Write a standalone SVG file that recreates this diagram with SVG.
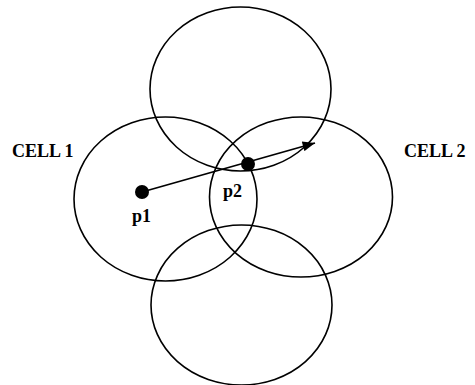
<svg xmlns="http://www.w3.org/2000/svg" width="475" height="385" viewBox="0 0 475 385">
<style>
.cell{fill:none;stroke:#000;stroke-width:1.6}
.lbl{font-family:"Liberation Serif","Times New Roman",serif;font-weight:bold;font-size:18px;fill:#000}
.dot{fill:#000}
.conn{stroke:#000;stroke-width:1.8;fill:none}
</style>
<defs>
<marker id="ah" viewBox="0 0 10 8" refX="10" refY="4" markerWidth="7.5" markerHeight="5.5" orient="auto" markerUnits="strokeWidth">
<path d="M0,0 L10,4 L0,8 Z" fill="#000"/>
</marker>
</defs>
<rect width="475" height="385" fill="#fff"/>
<g id="cell-top"><ellipse class="cell" cx="240.5" cy="89" rx="90.5" ry="82"/></g>
<g id="cell-1"><ellipse class="cell" cx="165.5" cy="199" rx="91.5" ry="82"/><text class="lbl" x="12" y="157">CELL 1</text></g>
<g id="cell-2"><ellipse class="cell" cx="301" cy="197" rx="91.5" ry="80"/><text class="lbl" x="404" y="157">CELL 2</text></g>
<g id="cell-bottom"><ellipse class="cell" cx="241.5" cy="305" rx="90.5" ry="80"/></g>
<g id="p1"><circle class="dot" cx="142" cy="192" r="7"/><text class="lbl" x="132" y="222">p1</text></g>
<g id="p2"><circle class="dot" cx="248" cy="164" r="7"/><text class="lbl" x="223" y="197">p2</text></g>
<g id="connectors"><line class="conn" x1="142" y1="192" x2="315" y2="143" marker-end="url(#ah)"/></g>
</svg>
